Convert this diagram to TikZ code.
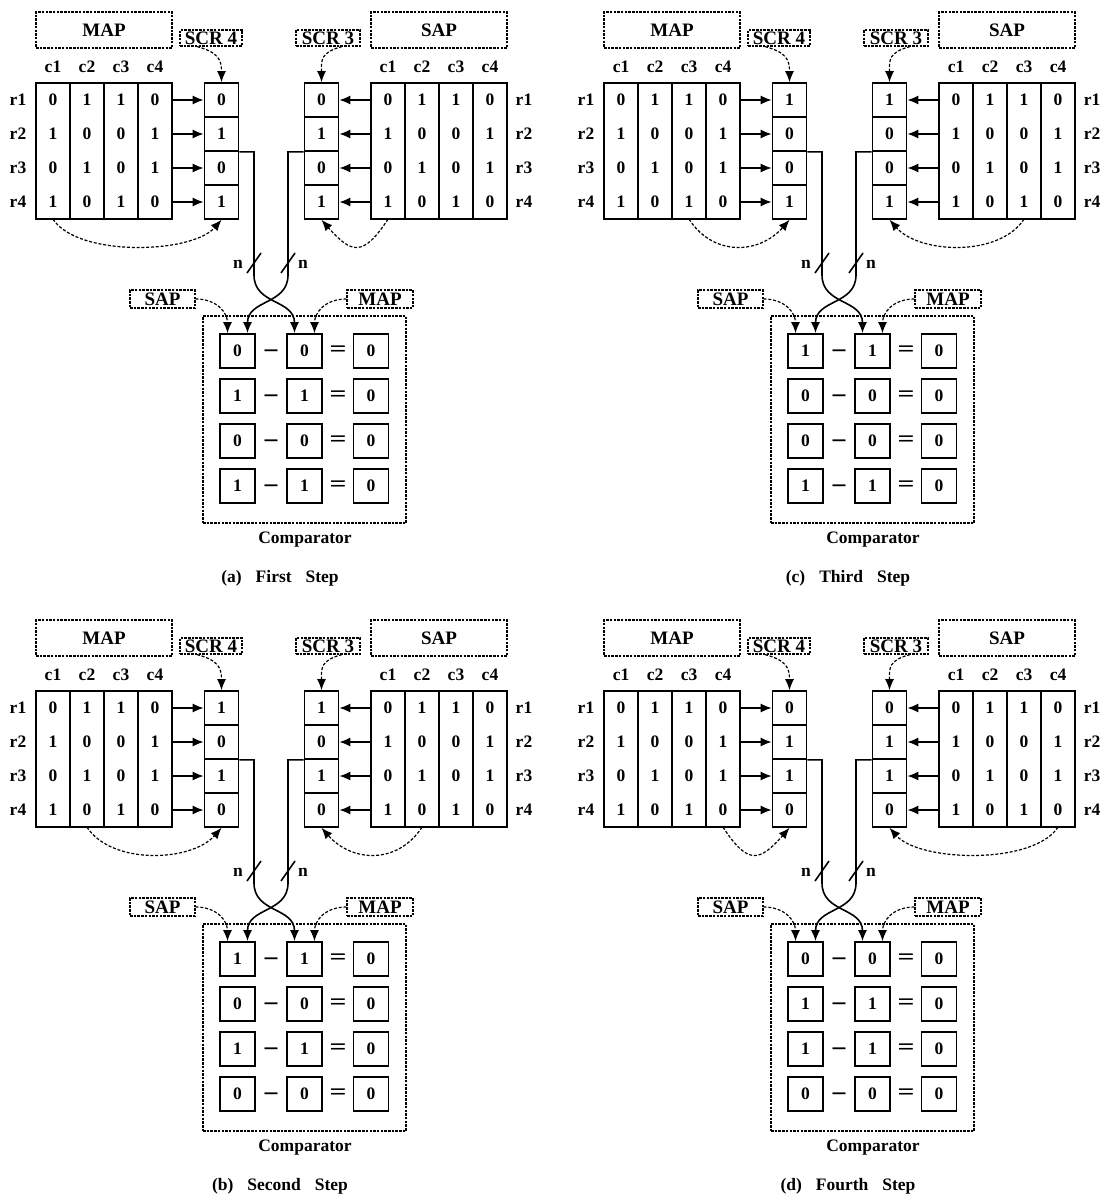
\documentclass[tikz,border=0pt]{standalone}
\usepackage{fontspec}
\usepackage{graphicx}
\setmainfont{Liberation Serif}
\usetikzlibrary{arrows.meta}

\tikzset{
  cell/.style={minimum width=34pt, minimum height=34pt, inner sep=0pt},
  reg/.style={cell, draw, line width=1.6pt},
  opbox/.style={minimum width=35pt, minimum height=34pt, inner sep=0pt, draw, line width=1.7pt},
  lblbox/.style={draw, line width=1.1pt, dash pattern=on 2.5pt off 1.2pt, inner sep=0pt,
    font=\bfseries\fontsize{19}{20}\selectfont},
  compbox/.style={draw, line width=1.1pt, dash pattern=on 2.5pt off 1.2pt,
    minimum width=203pt, minimum height=207pt},
  wire/.style={line width=1.6pt},
  solidtip/.style={wire, -{Latex[length=11pt,width=9pt]}},
  dashtip/.style={line width=1.2pt, dash pattern=on 3pt off 1.8pt, -{Latex[length=11pt,width=9pt]}},
}

% one step: #1 shift, #2 prefix, #3 copied column, #4 its values, #5 caption
\newcommand{\steppanel}[5]{%
\begin{scope}[shift={#1}]
  % MAP and SAP arrays
  \foreach \row [count=\i] in {{0,1,1,0},{1,0,0,1},{0,1,0,1},{1,0,1,0}} {
    \foreach \v [count=\j] in \row {
      \node[cell] (#2-map-\i-\j) at (19+34*\j, 66+34*\i) {\v};
      \node[cell] (#2-sap-\i-\j) at (354+34*\j, 66+34*\i) {\v};
    }
    \node (#2-rl-\i) at (18, 66+34*\i) {r\i};
    \node (#2-rr-\i) at (524, 66+34*\i) {r\i};
  }
  \foreach \j in {1,...,4} {
    \draw[wire] (#2-map-1-\j.north west) rectangle (#2-map-4-\j.south east);
    \draw[wire] (#2-sap-1-\j.north west) rectangle (#2-sap-4-\j.south east);
    \node (#2-mc-\j) at (19+34*\j, 67) {c\j};
    \node (#2-sc-\j) at (354+34*\j, 67) {c\j};
  }
  \node[lblbox, minimum width=136pt, minimum height=36pt] (#2-maplbl) at (104,30) {MAP};
  \node[lblbox, minimum width=136pt, minimum height=36pt] (#2-saplbl) at (439,30) {SAP};
  \node[lblbox, minimum width=62pt, minimum height=16pt] (#2-scr4lbl) at (211,38) {SCR 4};
  \node[lblbox, minimum width=64pt, minimum height=16pt] (#2-scr3lbl) at (328,38) {SCR 3};

  % shift registers
  \foreach \v [count=\i] in {#4} {
    \node[reg] (#2-scr4-\i) at (221.5, 66+34*\i) {\v};
    \node[reg] (#2-scr3-\i) at (321.5, 66+34*\i) {\v};
    \draw[solidtip] (#2-map-\i-4.east) -- (#2-scr4-\i.west);
    \draw[solidtip] (#2-sap-\i-1.west) -- (#2-scr3-\i.east);
  }
  \draw[dashtip] ([xshift=-14pt]#2-scr4lbl.south) .. controls +(22,6) and +(0,-22) .. (#2-scr4-1.north);
  \draw[dashtip] ([xshift=14pt]#2-scr3lbl.south) .. controls +(-22,6) and +(0,-22) .. (#2-scr3-1.north);
  \draw[dashtip] (#2-map-4-#3.south) .. controls +(25,38) and +(-30,34) .. (#2-scr4-4.south);
  \draw[dashtip] (#2-sap-4-#3.south) .. controls +(-25,38) and +(30,34) .. (#2-scr3-4.south);

  % comparator
  \node[compbox] (#2-comp) at (304.5,419.5) {};
  \foreach \v [count=\i] in {#4} {
    \node[opbox] (#2-opa-\i) at (237.5, 306+45*\i) {\v};
    \node[yshift=-4pt] (#2-minus-\i) at (271, 306+45*\i) {\scalebox{1.6}[1.5]{−}};
    \node[opbox] (#2-opb-\i) at (304.5, 306+45*\i) {\v};
    \node (#2-eq-\i) at (338, 306+45*\i) {\scalebox{1.7}[1.3]{=}};
    \node[opbox] (#2-res-\i) at (371, 306+45*\i) {0};
  }
  \node[lblbox, minimum width=65pt, minimum height=18pt] (#2-sapin) at (162.5,299) {SAP};
  \node[lblbox, minimum width=66pt, minimum height=18pt] (#2-mapin) at (380,299) {MAP};
  \draw[dashtip] (#2-sapin.east) .. controls +(22,0) and +(0,-20) .. ([xshift=-10pt]#2-opa-1.north);
  \draw[dashtip] (#2-mapin.west) .. controls +(-22,0) and +(0,-20) .. ([xshift=10pt]#2-opb-1.north);

  % n-bit buses crossing into the comparator
  \draw[solidtip] (#2-scr4-2.south east) -| (254,275)
    .. controls +(0,30) and +(0,-34) .. ([xshift=-10pt]#2-opb-1.north);
  \draw[solidtip] (#2-scr3-2.south west) -| (288,275)
    .. controls +(0,30) and +(0,-34) .. ([xshift=10pt]#2-opa-1.north);
  \draw[wire] (247,273) -- (261,253);
  \draw[wire] (281,273) -- (295,253);
  \node (#2-nl) at (238,264) {n};
  \node (#2-nr) at (303,264) {n};

  \node (#2-complbl) at (305,540) {Comparator};
  \node (#2-cap) at (280,578) {#5};
\end{scope}}

\begin{document}
\begin{tikzpicture}[x=1pt, y=-1pt, font=\bfseries\fontsize{17.5}{20}\selectfont]
  \useasboundingbox (0,0) rectangle (1102,1196);

  \steppanel{(0,0)}{a}{1}{0,1,0,1}{(a)\hspace{0.8em}First\hspace{0.8em}Step}
  \steppanel{(568,0)}{c}{3}{1,0,0,1}{(c)\hspace{0.8em}Third\hspace{0.8em}Step}
  \steppanel{(0,608)}{b}{2}{1,0,1,0}{(b)\hspace{0.8em}Second\hspace{0.8em}Step}
  \steppanel{(568,608)}{d}{4}{0,1,1,0}{(d)\hspace{0.8em}Fourth\hspace{0.8em}Step}
\end{tikzpicture}
\end{document}
